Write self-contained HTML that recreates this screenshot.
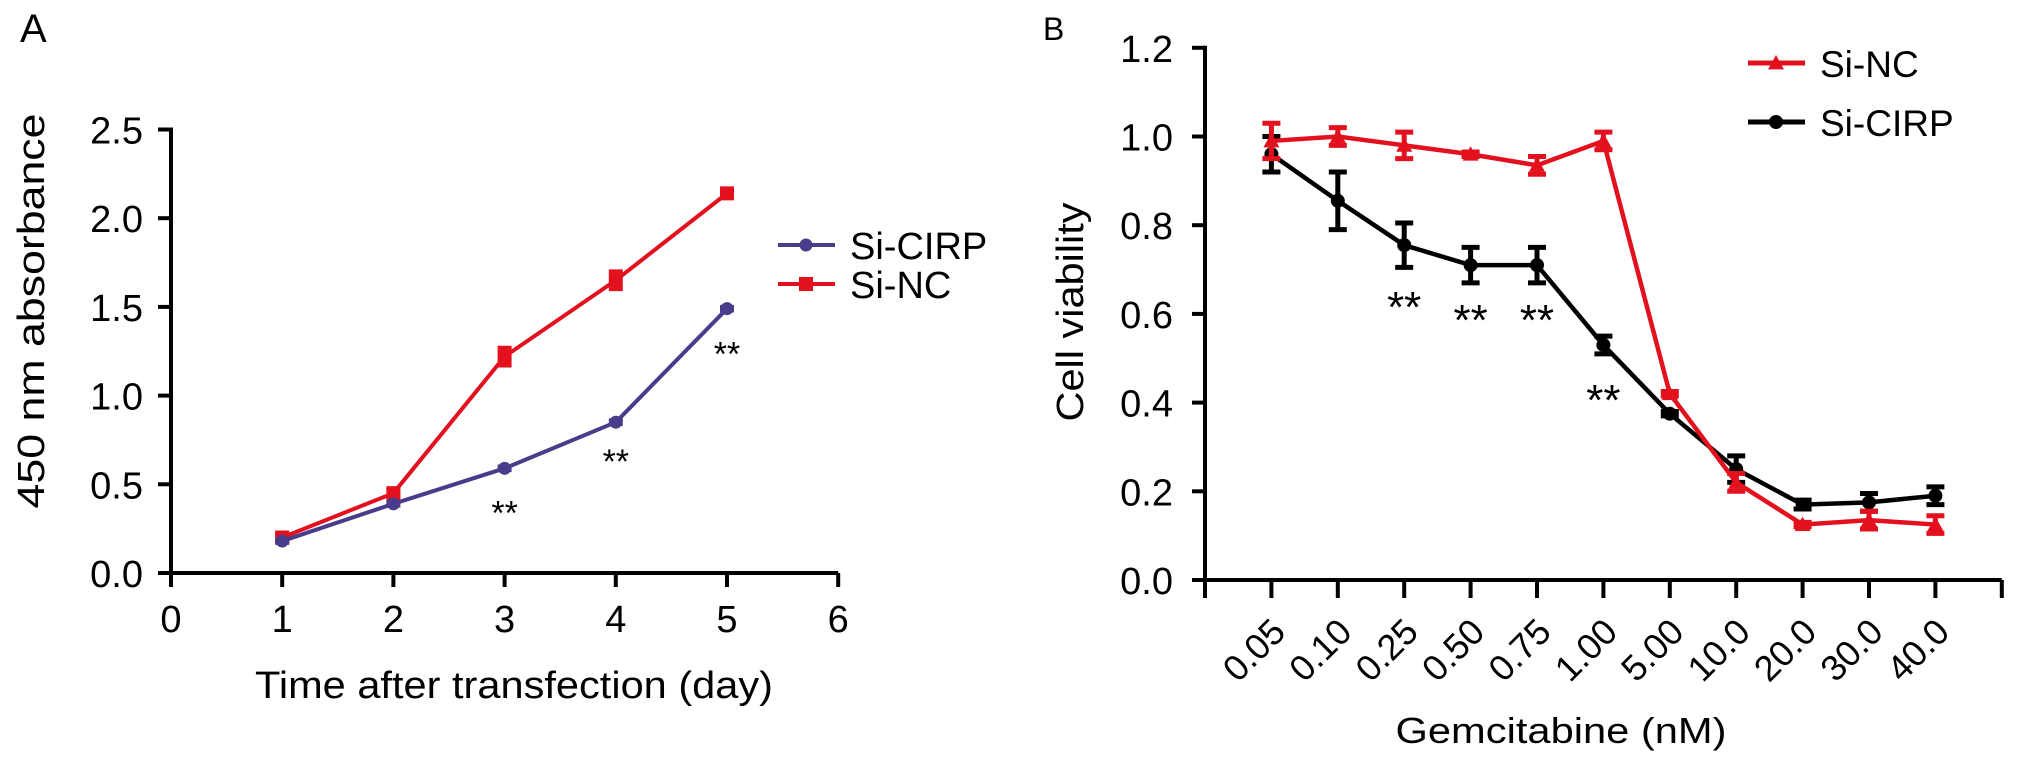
<!DOCTYPE html>
<html><head><meta charset="utf-8"><style>
html,body{margin:0;padding:0;background:#fff;}
svg{display:block;font-family:"Liberation Sans",sans-serif;}
</style></head><body>
<svg id="fig" width="2018" height="764" viewBox="0 0 2018 764">
<g id="pa"></g>
<g id="pb"></g>
</svg>
<script>
// Panel A data
const daysA = [1,2,3,4,5];
const xTicksA = [0,1,2,3,4,5,6];
const yTicksA = [0,0.5,1.0,1.5,2.0,2.5];
const cirpA = [0.18,0.39,0.59,0.85,1.49];
const cirpErrA = [0.01,0.01,0.01,0.01,0.01];
const ncA = [0.20,0.45,1.22,1.65,2.14];
const ncErrA = [0.02,0.02,0.05,0.05,0.02];
const starsA = [3,4,5];
// Panel B data
const catsB = ["0.05","0.10","0.25","0.50","0.75","1.00","5.00","10.0","20.0","30.0","40.0"];
const yTicksB = [0,0.2,0.4,0.6,0.8,1.0,1.2];
const ncB = [0.99,1.0,0.98,0.96,0.935,0.99,0.42,0.22,0.125,0.135,0.125];
const ncErrB = [0.04,0.02,0.03,0.005,0.02,0.02,0.005,0.02,0.005,0.02,0.02];
const cirpB = [0.96,0.855,0.755,0.71,0.71,0.53,0.375,0.25,0.17,0.175,0.19];
const cirpErrB = [0.04,0.065,0.05,0.04,0.04,0.02,0.005,0.03,0.01,0.02,0.02];
const starsB = [2,3,4,5];

const NS="http://www.w3.org/2000/svg";
function mk(parent,tag,attrs,text){const e=document.createElementNS(NS,tag);for(const k in attrs)e.setAttribute(k,attrs[k]);if(text!==undefined)e.textContent=text;parent.appendChild(e);return e;}
const RED="#e3101e", PUR="#4a3c8a", BLK="#000";

// ---------- Panel A ----------
const pa=document.getElementById('pa');
const ax=v=>171+v*111.2, ay=v=>573-v*177.4;
let t;
t=mk(pa,'text',{x:20,y:42,'font-size':40});
t.textContent='A';
t=mk(pa,'line',{x1:171,y1:ay(2.5)-2,x2:171,y2:575,stroke:BLK,'stroke-width':4});

t=mk(pa,'line',{x1:169,y1:573,x2:ax(6),y2:573,stroke:BLK,'stroke-width':4});

yTicksA.forEach(v=>{
  const l=mk(pa,'line',{x1:158,y1:ay(v),x2:171,y2:ay(v),stroke:BLK,'stroke-width':4});
  
  const tx=mk(pa,'text',{x:143,y:ay(v)+14,'font-size':38,'text-anchor':'end'},v.toFixed(1));
  
});
xTicksA.forEach(v=>{
  const l=mk(pa,'line',{x1:ax(v),y1:573,x2:ax(v),y2:587,stroke:BLK,'stroke-width':4});
  
  const tx=mk(pa,'text',{x:ax(v),y:632,'font-size':38,'text-anchor':'middle'},String(v));
  
});
t=mk(pa,'text',{x:514,y:698,'font-size':38,'text-anchor':'middle',textLength:518,lengthAdjust:'spacingAndGlyphs'},'Time after transfection (day)');

t=mk(pa,'text',{x:0,y:0,'font-size':38,'text-anchor':'middle',transform:'translate(44,311) rotate(-90)',textLength:395,lengthAdjust:'spacingAndGlyphs'},'450 nm absorbance');

function seriesA(vals,errs,col,name,marker){
  const pts=vals.map((v,i)=>ax(daysA[i])+','+ay(v)).join(' ');
  const pl=mk(pa,'polyline',{points:pts,fill:'none',stroke:col,'stroke-width':4});
  
  vals.forEach((v,i)=>{
    const x=ax(daysA[i]),y=ay(v),e=errs[i]*177.4;
    const eb=mk(pa,'path',{d:`M${x},${y-e}V${y+e}M${x-7},${y-e}H${x+7}M${x-7},${y+e}H${x+7}`,stroke:col,'stroke-width':4,fill:'none'});
    
    let m;
    if(marker==='sq') m=mk(pa,'rect',{x:x-7,y:y-7,width:14,height:14,fill:col});
    else m=mk(pa,'circle',{cx:x,cy:y,r:6.5,fill:col});
    
  });
}
seriesA(ncA,ncErrA,RED,'si-nc-a','sq');
seriesA(cirpA,cirpErrA,PUR,'si-cirp-a','ci');
starsA.forEach((d,k)=>{
  const i=daysA.indexOf(d);
  const yOff=[56,51,57][k];
  const s=mk(pa,'text',{x:ax(d),y:ay(cirpA[i])+yOff,'font-size':34,'text-anchor':'middle'},'**');
  
});
// legend A
t=mk(pa,'line',{x1:778,y1:245,x2:835,y2:245,stroke:PUR,'stroke-width':4});

mk(pa,'circle',{cx:806,cy:245,r:6.5,fill:PUR});
t=mk(pa,'text',{x:850,y:259,'font-size':38},'Si-CIRP');

t=mk(pa,'line',{x1:778,y1:284,x2:835,y2:284,stroke:RED,'stroke-width':4});

mk(pa,'rect',{x:799,y:277,width:14,height:14,fill:RED});
t=mk(pa,'text',{x:850,y:298,'font-size':38},'Si-NC');


// ---------- Panel B ----------
const pb=document.getElementById('pb');
const bx=i=>1205+(i+1)*66.4, by=v=>580-v*443.5;
t=mk(pb,'text',{x:1043,y:40,'font-size':32},'B');

t=mk(pb,'line',{x1:1205,y1:by(1.2)-2,x2:1205,y2:582,stroke:BLK,'stroke-width':4});

t=mk(pb,'line',{x1:1193,y1:580,x2:bx(11),y2:580,stroke:BLK,'stroke-width':4});

yTicksB.forEach(v=>{
  const l=mk(pb,'line',{x1:1192,y1:by(v),x2:1205,y2:by(v),stroke:BLK,'stroke-width':4});
  
  const tx=mk(pb,'text',{x:1173,y:by(v)+14,'font-size':38,'text-anchor':'end'},v.toFixed(1));
  
});
for(let i=-1;i<=11;i++){
  const l=mk(pb,'line',{x1:bx(i),y1:580,x2:bx(i),y2:598,stroke:BLK,'stroke-width':4});
  
}
catsB.forEach((c,i)=>{
  const x=bx(i)+16,y=634;
  const tx=mk(pb,'text',{x:x,y:y,'font-size':36,'text-anchor':'end',transform:`rotate(-45 ${x} ${y})`},c);
  
});
t=mk(pb,'text',{x:1561,y:743,'font-size':36,'text-anchor':'middle',textLength:331,lengthAdjust:'spacingAndGlyphs'},'Gemcitabine (nM)');

t=mk(pb,'text',{x:0,y:0,'font-size':38,'text-anchor':'middle',transform:'translate(1083,312) rotate(-90)',textLength:219,lengthAdjust:'spacingAndGlyphs'},'Cell viability');

function tri(x,y,s){return `${x},${y-s} ${x-s},${y+s*0.8} ${x+s},${y+s*0.8}`;}
function seriesB(vals,errs,col,name,marker){
  const pts=vals.map((v,i)=>bx(i)+','+by(v)).join(' ');
  const pl=mk(pb,'polyline',{points:pts,fill:'none',stroke:col,'stroke-width':4.5});
  
  vals.forEach((v,i)=>{
    const x=bx(i),y=by(v),e=errs[i]*443.5;
    const eb=mk(pb,'path',{d:`M${x},${y-e}V${y+e}M${x-9},${y-e}H${x+9}M${x-9},${y+e}H${x+9}`,stroke:col,'stroke-width':5,fill:'none'});
    
    let m;
    if(marker==='tri') m=mk(pb,'polygon',{points:tri(x,y,8),fill:col});
    else m=mk(pb,'circle',{cx:x,cy:y,r:7,fill:col});
    
  });
}
seriesB(cirpB,cirpErrB,BLK,'si-cirp-b','ci');
seriesB(ncB,ncErrB,RED,'si-nc-b','tri');
starsB.forEach(i=>{
  const cy=i===5?393:(i===2?300:313);
  const s=mk(pb,'text',{x:bx(i),y:cy+22,'font-size':44,'text-anchor':'middle'},'**');
  
});
// legend B
t=mk(pb,'line',{x1:1748,y1:63,x2:1805,y2:63,stroke:RED,'stroke-width':5});

mk(pb,'polygon',{points:tri(1776,63,8),fill:RED});
t=mk(pb,'text',{x:1820,y:77,'font-size':37},'Si-NC');

t=mk(pb,'line',{x1:1748,y1:122,x2:1805,y2:122,stroke:BLK,'stroke-width':5});

mk(pb,'circle',{cx:1776,cy:122,r:7,fill:BLK});
t=mk(pb,'text',{x:1820,y:136,'font-size':37},'Si-CIRP');

</script>
</body></html>
